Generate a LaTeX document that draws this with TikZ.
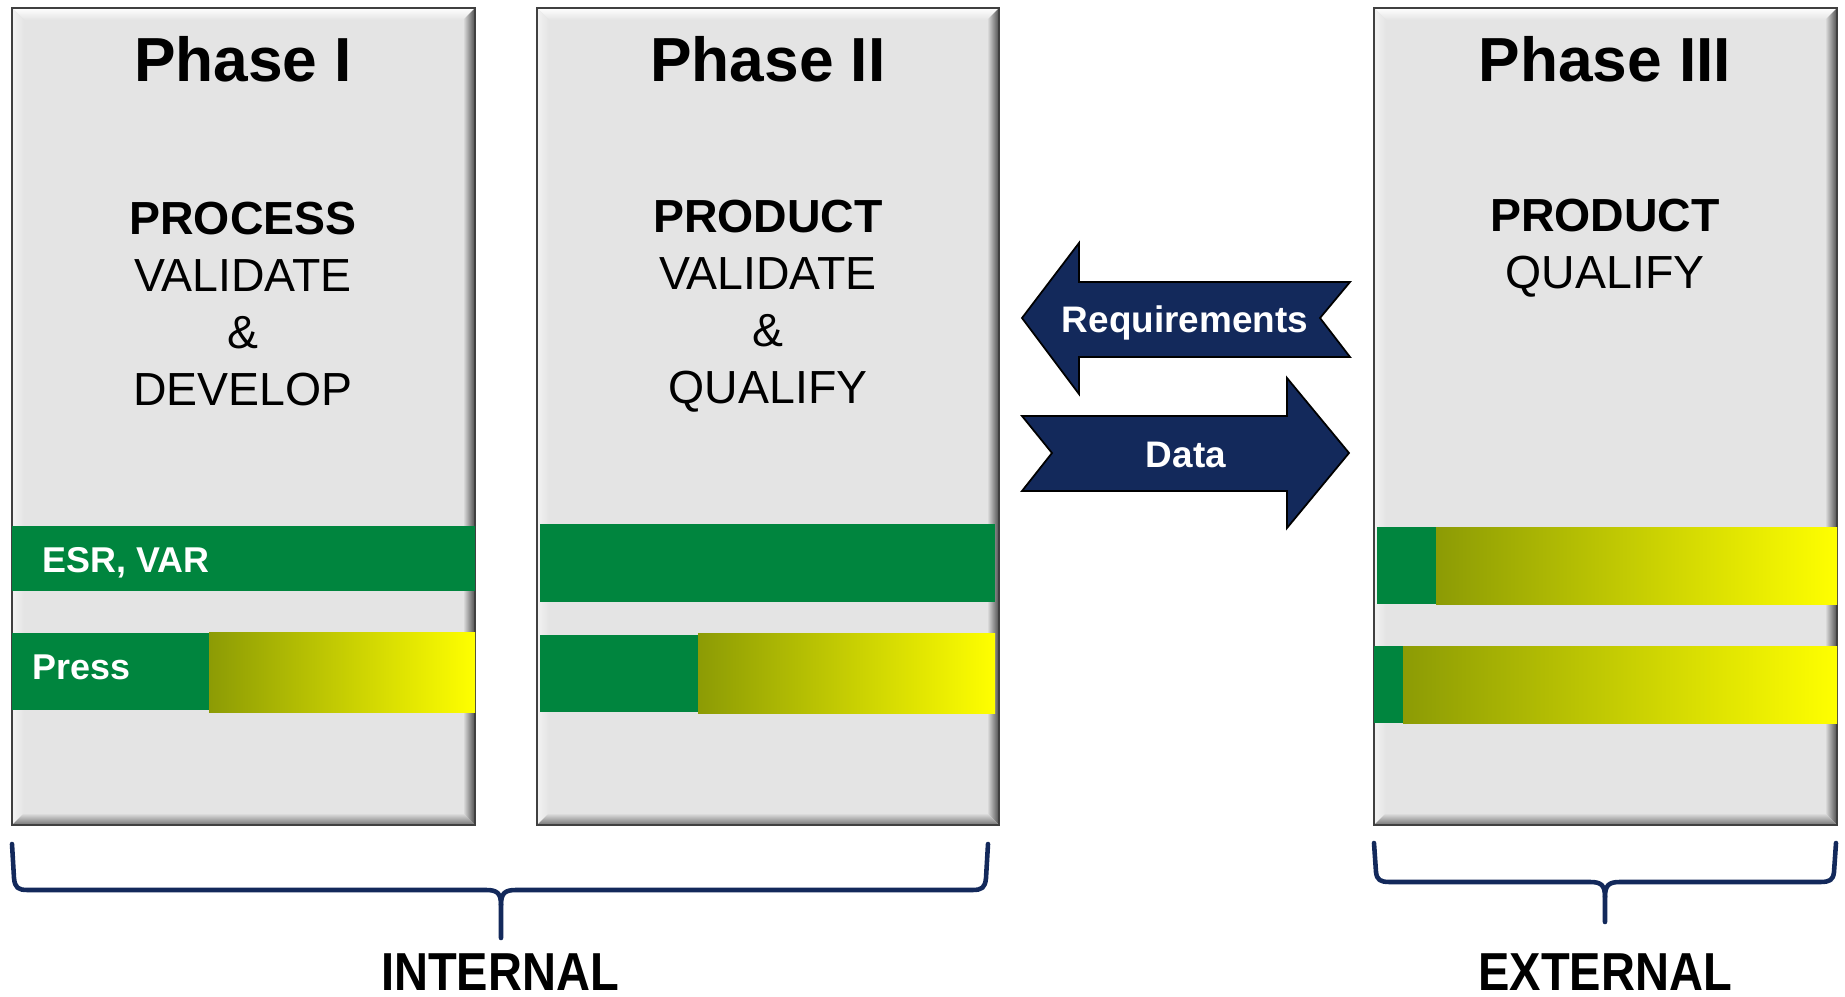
\documentclass[tikz,border=0pt]{standalone}
\usepackage{fontspec}
\setmainfont{Liberation Sans}
\usepackage{tikz}
\usetikzlibrary{positioning}
\usepackage{xcolor}
\definecolor{boxgray}{RGB}{228,228,228}
\definecolor{bargreen}{RGB}{0,133,62}
\definecolor{barolive}{RGB}{140,155,5}
\definecolor{barmid}{RGB}{228,230,0}
\definecolor{navy}{RGB}{19,41,91}

\begin{document}
\begin{tikzpicture}
[x = 0.01cm, y = -0.01cm,
 phasetitle/.style = {font=\fontsize{17.7}{20}\selectfont\bfseries, anchor=base, inner sep=0},
 phasetext/.style = {font=\fontsize{13.2}{16.2}\selectfont, align=center, anchor=north, inner sep=0},
 bartag/.style = {font=\fontsize{10.2}{12}\selectfont\bfseries, text=white, anchor=base west, inner sep=0},
 arrowtag/.style = {font=\fontsize{10.5}{12}\selectfont\bfseries, text=white, anchor=base, inner sep=0},
 groupname/.style = {font=\fontsize{15.2}{18}\selectfont\bfseries, anchor=base, inner sep=0},
 bracepath/.style = {draw=navy, line width=1.3pt, line cap=round, line join=round},
 bluearrow/.style = {fill=navy, draw=black, line width=0.5pt, line join=miter},
 fade/.style = {left color=barolive, middle color=barmid, right color=yellow}]

\useasboundingbox (0,0) rectangle (1845,997);

\foreach \xa/\xb in {12/475, 537/999, 1374/1837} {
  \fill[boxgray] (\xa,8) rectangle (\xb,825);
  \shade[top color=white, bottom color=boxgray] (\xa,8) -- (\xb,8) -- (\xb-12,20) -- (\xa+12,20) -- cycle;
  \shade[left color=white!90!gray, right color=boxgray] (\xa,8) -- (\xa+12,20) -- (\xa+12,813) -- (\xa,825) -- cycle;
  \shade[left color=boxgray, right color=black!70] (\xb-12,20) -- (\xb,8) -- (\xb,825) -- (\xb-12,813) -- cycle;
  \shade[top color=boxgray, bottom color=black!55] (\xa+12,813) -- (\xb-12,813) -- (\xb,825) -- (\xa,825) -- cycle;
  \draw[black!75, line width=0.6pt] (\xa,8) rectangle (\xb,825);
}

\fill[bargreen] (12,526) rectangle (475,591);
\fill[bargreen] (12,633) rectangle (209,710);
\shade[fade] (209,632) rectangle (475,712);
\fill[bargreen] (540,524) rectangle (995,602);
\fill[bargreen] (540,635) rectangle (698,712);
\shade[fade] (698,633) rectangle (995,713);
\fill[bargreen] (1377,527) rectangle (1436,604);
\shade[fade] (1436,527) rectangle (1837,604);
\fill[bargreen] (1374,646) rectangle (1403,723);
\shade[fade] (1403,646) rectangle (1837,723);

\node[phasetitle] (t1) at (243,82) {Phase I};
\node[phasetitle] (t2) at (768,82) {Phase II};
\node[phasetitle] (t3) at (1605,82) {Phase III};
\node[phasetext] (d1) at (243,201) {\textbf{PROCESS}\\VALIDATE\\\&\\DEVELOP};
\node[phasetext] (d2) at (768,199) {\textbf{PRODUCT}\\VALIDATE\\\&\\QUALIFY};
\node[phasetext] (d3) at (1605,198) {\textbf{PRODUCT}\\QUALIFY};
\node[bartag] (esr) at (42,572) {ESR, VAR};
\node[bartag] (press) at (32,679) {Press};

\draw[bluearrow] (1022,318) -- (1079,243) -- (1079,282) -- (1350,282) -- (1320,318) -- (1350,357) -- (1079,357) -- (1079,394) -- cycle;
\draw[bluearrow] (1022,416) -- (1287,416) -- (1287,378) -- (1349,453) -- (1287,528) -- (1287,491) -- (1022,491) -- (1052,453) -- cycle;
\node[arrowtag] (req) at (1185,332) {Requirements};
\node[arrowtag] (data) at (1186,467) {Data};

\draw[bracepath] (12,844) -- (14,878) .. controls (15,888) and (18,890) .. (28,890) -- (486,890) .. controls (497,890) and (501,893) .. (501,905) -- (501,938);
\draw[bracepath] (988,844) -- (986,878) .. controls (985,888) and (982,890) .. (972,890) -- (516,890) .. controls (505,890) and (501,893) .. (501,905);
\draw[bracepath] (1374,843) -- (1376,872) .. controls (1377,880) and (1380,882) .. (1390,882) -- (1590,882) .. controls (1601,882) and (1605,885) .. (1605,897) -- (1605,922);
\draw[bracepath] (1836,843) -- (1834,872) .. controls (1833,880) and (1830,882) .. (1820,882) -- (1620,882) .. controls (1609,882) and (1605,885) .. (1605,897);

\node[groupname] (int) at (500,990) {\scalebox{0.88}[1]{INTERNAL}};
\node[groupname] (ext) at (1605,990) {\scalebox{0.88}[1]{EXTERNAL}};

\end{tikzpicture}
\end{document}
